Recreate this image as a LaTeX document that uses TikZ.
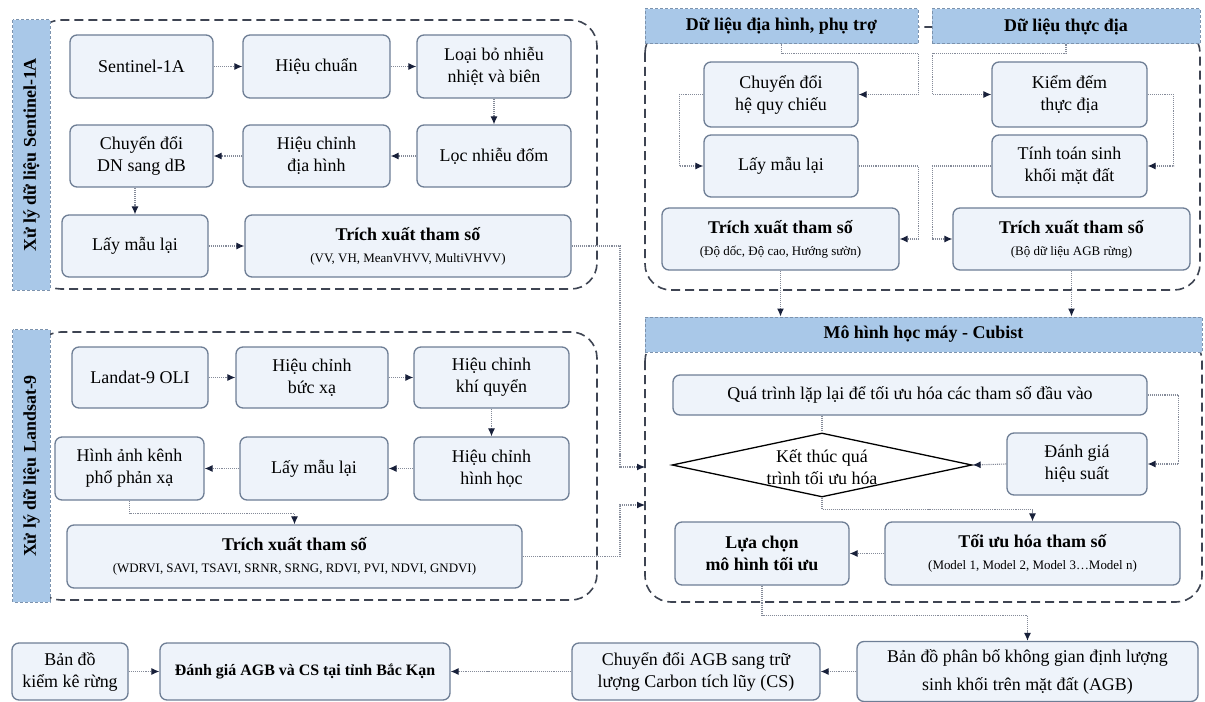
\documentclass[tikz,border=0pt]{standalone}
\usepackage{fontspec}
\setmainfont{Liberation Serif}
\usetikzlibrary{arrows.meta,shapes.geometric}

\definecolor{boxfill}{HTML}{EEF3FA}
\definecolor{boxline}{HTML}{6E7E95}
\definecolor{barfill}{HTML}{A9C8E8}
\definecolor{barline}{HTML}{7C93AE}
\definecolor{grpline}{HTML}{3E4452}
\definecolor{linkc}{HTML}{858B99}
\definecolor{tipc}{HTML}{18203A}

\begin{document}
\begin{tikzpicture}[x=1bp, y=-1bp, >={Latex[length=8bp,width=7bp,color=tipc]},
    wh/.style 2 args={minimum width=#1bp, minimum height=#2bp}]
    \tikzstyle{blk} = [rectangle, draw=boxline, fill=boxfill, line width=1.3bp, rounded corners=7bp, align=center, inner sep=2bp, font=\fontsize{18}{22}\selectfont]
    \tikzstyle{bar} = [rectangle, draw=barline, fill=barfill, densely dashed, line width=1bp, inner sep=0pt, font=\bfseries\fontsize{18}{21}\selectfont]
    \tikzstyle{grp} = [draw=grpline, line width=1.6bp, dash pattern=on 9bp off 5bp, rounded corners=26bp]
    \tikzstyle{link} = [->, draw=linkc, line width=1.1bp, densely dotted]
    \tikzstyle{dec} = [diamond, draw=black, line width=1.3bp, fill=white, inner sep=0pt]
    \newcommand{\subtxt}[1]{{\fontsize{13}{15}\selectfont #1}}

    \useasboundingbox (0,0) rectangle (1205,702);

    % dashed groups
    \draw[grp] (35,20) rectangle (597,289);
    \draw[grp] (35,332) rectangle (597,600);
    \draw[grp] (645,27) rectangle (1200,290);
    \draw[grp] (645,335) rectangle (1202,602);

    % group titles
    \node[bar, rotate=90, wh={270}{37}] (barS) at (31.5,155) {Xử lý dữ liệu Sentinel-1A};
    \node[bar, rotate=90, wh={272}{37}] (barL) at (31.5,466) {Xử lý dữ liệu Landsat-9};
    \node[bar, wh={273}{35}] (H1) at (781.5,26.5) {Dữ liệu địa hình, phụ trợ};
    \node[bar, wh={268}{35}] (H2) at (1066,26.5) {Dữ liệu thực địa};
    \node[bar, wh={557}{35}] (C) at (923.5,334.5) {Mô hình học máy - Cubist};
    \coordinate (inS) at (645,467);
    \coordinate (inL) at (645,505);

    % Sentinel-1A
    \node[blk, wh={143}{63}] (s1) at (141.5,66.5) {Sentinel-1A};
    \node[blk, wh={147}{63}] (s2) at (316.5,66.5) {Hiệu chuẩn};
    \node[blk, wh={154}{63}] (s3) at (494,66.5) {Loại bỏ nhiễu\\nhiệt và biên};
    \node[blk, wh={154}{62}] (s4) at (494,156) {Lọc nhiễu đốm};
    \node[blk, wh={147}{62}] (s5) at (316.5,156) {Hiệu chỉnh\\địa hình};
    \node[blk, wh={143}{62}] (s6) at (141.5,156) {Chuyển đổi\\DN sang dB};
    \node[blk, wh={146}{62}] (s7) at (135,246) {Lấy mẫu lại};
    \node[blk, wh={326}{62}] (s8) at (408,246) {\textbf{Trích xuất tham số}\\\subtxt{(VV, VH, MeanVHVV, MultiVHVV)}};

    \draw[link] (s1) -- (s2);
    \draw[link] (s2) -- (s3);
    \draw[link] (s3) -- (s4);
    \draw[link] (s4) -- (s5);
    \draw[link] (s5) -- (s6);
    \draw[link] (s7.north |- s6.south) -- (s7.north);
    \draw[link] (s7) -- (s8);
    \draw[link] (s8.east) -| ([xshift=-25bp]inS) -- (inS);

    % Landsat-9
    \node[blk, wh={136}{61}] (l1) at (140,377.5) {Landat-9 OLI};
    \node[blk, wh={152}{61}] (l2) at (312,377.5) {Hiệu chỉnh\\bức xạ};
    \node[blk, wh={155}{61}] (l3) at (491.5,377.5) {Hiệu chỉnh\\khí quyển};
    \node[blk, wh={155}{63}] (l4) at (491.5,468.5) {Hiệu chỉnh\\hình học};
    \node[blk, wh={148}{63}] (l5) at (314,468.5) {Lấy mẫu lại};
    \node[blk, wh={149}{63}] (l6) at (129.5,468.5) {Hình ảnh kênh\\phổ phản xạ};
    \node[blk, wh={455}{63}] (l7) at (294.5,556.5) {\textbf{Trích xuất tham số}\\\subtxt{(WDRVI, SAVI, TSAVI, SRNR, SRNG, RDVI, PVI, NDVI, GNDVI)}};

    \draw[link] (l1) -- (l2);
    \draw[link] (l2) -- (l3);
    \draw[link] (l3) -- (l4);
    \draw[link] (l4) -- (l5);
    \draw[link] (l5) -- (l6);
    \draw[link] (l6.south) -- ++(0,13) -| (l7.north);
    \draw[link] (l7.east) -| ([xshift=-25bp]inL) -- (inL);

    % terrain and field data
    \node[blk, wh={154}{65}] (r1) at (781,94.5) {Chuyển đổi\\hệ quy chiếu};
    \node[blk, wh={154}{62}] (r2) at (781,166) {Lấy mẫu lại};
    \node[blk, wh={237}{62}] (r3) at (780.5,239) {\textbf{Trích xuất tham số}\\\subtxt{(Độ dốc, Độ cao, Hướng sườn)}};
    \node[blk, wh={155}{65}] (r4) at (1069.5,94.5) {Kiểm đếm\\thực địa};
    \node[blk, wh={155}{62}] (r5) at (1069.5,166) {Tính toán sinh\\khối mặt đất};
    \node[blk, wh={237}{62}] (r6) at (1071.5,239) {\textbf{Trích xuất tham số}\\\subtxt{(Bộ dữ liệu AGB rừng)}};

    \draw[link] (H1.south) -- ++(0,9) -| ([xshift=60bp]r1.east) -- (r1.east);
    \draw[link] (r1.west) -- ++(-24,0) |- (r2.west);
    \draw[link] (r2.east) -- ++(60,0) |- (r3.east);
    \draw[link] (H2.south) -- ++(0,9) -| ([xshift=-59bp]r4.west) -- (r4.west);
    \draw[link] (r4.east) -- ++(26,0) |- (r5.east);
    \draw[link] (r5.west) -- ++(-59,0) |- (r6.west);
    \draw[link] (r3.south) -- (r3.south |- C.north);
    \draw[link] (r6.south) -- (r6.south |- C.north);

    % Cubist
    \node[blk, wh={474}{40}] (c1) at (910,395) {Quá trình lặp lại để tối ưu hóa các tham số đầu vào};
    \node[dec, wh={300}{64}] (dia) at (822,465) {};
    \node[align=center, font=\fontsize{18}{22}\selectfont] (diat) at (822,467) {Kết thúc quá\\trình tối ưu hóa};
    \node[blk, wh={140}{62}] (c2) at (1077,464) {Đánh giá\\hiệu suất};
    \node[blk, wh={174}{63}] (c3) at (762,553.5) {\textbf{Lựa chọn}\\\textbf{mô hình tối ưu}};
    \node[blk, wh={295}{63}] (c4) at (1032.5,553.5) {\textbf{Tối ưu hóa tham số}\\\subtxt{(Model 1, Model 2, Model 3…Model n)}};

    \draw[link, -] (dia.north |- c1.south) -- (dia.north);
    \draw[link] (c1.east) -- ++(31,0) |- (c2.east);
    \draw[link] (c2.west) -- (dia.east);
    \draw[link] (dia.south) -- ++(0,12) -| (c4.north);
    \draw[link] (c4.west) -- (c3.east);

    % results
    \node[blk, wh={116}{57}] (b1) at (70,671.5) {Bản đồ\\kiểm kê rừng};
    \node[blk, wh={290}{57}, font=\bfseries\fontsize{16}{20}\selectfont] (b2) at (305,671.5) {Đánh giá AGB và CS tại tỉnh Bắc Kạn};
    \node[blk, wh={248}{57}] (b3) at (696,671.5) {Chuyển đổi AGB sang trữ\\lượng Carbon tích lũy (CS)};
    \node[blk, wh={341}{60}] (b4) at (1027.5,671.5) {Bản đồ phân bố không gian định lượng\\[6bp]sinh khối trên mặt đất (AGB)};

    \draw[link] (c3.south) -- ++(0,30) -| (b4.north);
    \draw[link] (b1) -- (b2);
    \draw[link] (b3) -- (b2);
    \draw[link] (b4) -- (b3);
\end{tikzpicture}
\end{document}
